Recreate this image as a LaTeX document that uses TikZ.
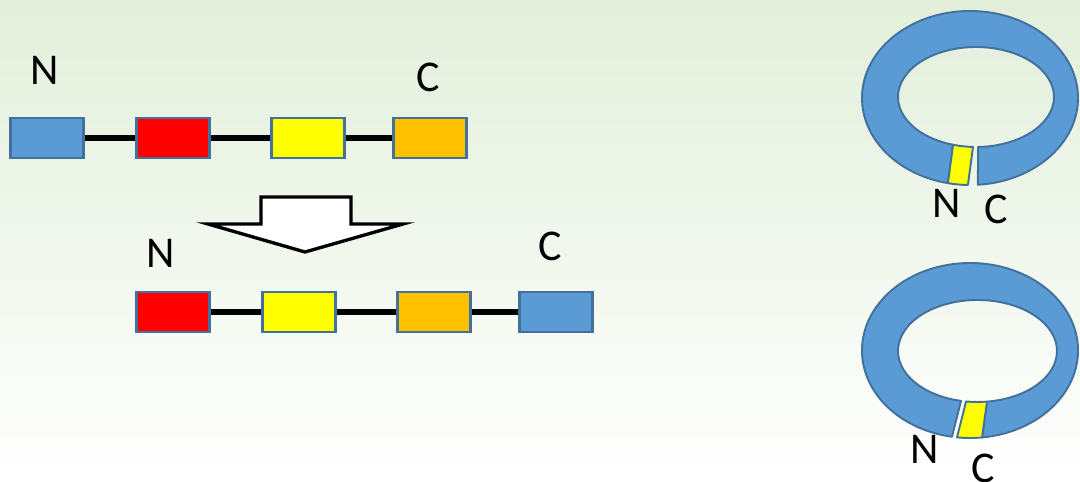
\documentclass[tikz,border=0pt]{standalone}
\usepackage{fontspec}
\setmainfont{Carlito}
\definecolor{bgtop}{RGB}{226,239,218}
\definecolor{segblue}{RGB}{91,155,213}
\definecolor{segedge}{RGB}{65,113,156}
\definecolor{segred}{RGB}{255,0,0}
\definecolor{segyellow}{RGB}{255,255,0}
\definecolor{segorange}{RGB}{255,192,0}
\tikzset{
  seg/.style={draw=segedge, line width=1.3pt, minimum width=1.46cm, minimum height=0.8cm, inner sep=0pt},
  linker/.style={line width=3pt, black},
  term/.style={font=\fontsize{25}{30}\selectfont, inner sep=0pt},
  ringpart/.style={draw=segedge, line width=1.1pt, line join=round},
  turnarrow/.style={draw=black, line width=1.9pt, fill=white, line join=miter}
}
\begin{document}
\begin{tikzpicture}[x=0.02cm, y=-0.02cm]
% page and background
\useasboundingbox (0,0) rectangle (1080,482);
\shade[top color=bgtop, bottom color=white] (0,0) rectangle (1080,482);

% linear chain before rearrangement
\node[seg, fill=segblue]   (a1) at (47,138)  {};
\node[seg, fill=segred]    (a2) at (173,138) {};
\node[seg, fill=segyellow] (a3) at (308,138) {};
\node[seg, fill=segorange] (a4) at (430,138) {};
\draw[linker] (a1.east) -- (a2.west);
\draw[linker] (a2.east) -- (a3.west);
\draw[linker] (a3.east) -- (a4.west);
\node[term] (n1) at (45,70)  {N};
\node[term] (c1) at (428,77) {C};

% block arrow
\path[turnarrow] (261,197) -- (351,197) -- (351,224) -- (403,224) -- (305,252)
  -- (208,224) -- (261,224) -- cycle;

% linear chain after rearrangement
\node[seg, fill=segred]    (b1) at (173,312) {};
\node[seg, fill=segyellow] (b2) at (299,312) {};
\node[seg, fill=segorange] (b3) at (434,312) {};
\node[seg, fill=segblue]   (b4) at (556,312) {};
\draw[linker] (b1.east) -- (b2.west);
\draw[linker] (b2.east) -- (b3.west);
\draw[linker] (b3.east) -- (b4.west);
\node[term] (n2) at (161,253) {N};
\node[term] (c2) at (550,246) {C};

% circular form, yellow segment at the N end
\path[ringpart, fill=segblue]
  ({970+108*cos(85.8)},{98+87*sin(85.8)})
  arc[start angle=85.8, end angle=-258.2, x radius=108, y radius=87]
  -- ({976+78*cos(-252.9)},{97+50*sin(-252.9)})
  arc[start angle=-252.9, end angle=88.5, x radius=78, y radius=50] -- cycle;
\path[ringpart, fill=segyellow]
  ({970+108*cos(101.8)},{98+87*sin(101.8)})
  arc[start angle=101.8, end angle=91.1, x radius=108, y radius=87]
  -- ({976+78*cos(92.2)},{97+50*sin(92.2)})
  arc[start angle=92.2, end angle=107.1, x radius=78, y radius=50] -- cycle;
\node[term] (n3) at (947,203) {N};
\node[term] (c3) at (996,209) {C};

% circular form, yellow segment at the C end
\path[ringpart, fill=segblue]
  ({970+108*cos(83.6)},{350.5+87.5*sin(83.6)})
  arc[start angle=83.6, end angle=-260.4, x radius=108, y radius=87.5]
  -- ({977.5+79.5*cos(-258.0)},{351+51*sin(-258.0)})
  arc[start angle=-258.0, end angle=83.1, x radius=79.5, y radius=51] -- cycle;
\path[ringpart, fill=segyellow]
  ({970+108*cos(96.9)},{350.5+87.5*sin(96.9)})
  arc[start angle=96.9, end angle=83.6, x radius=108, y radius=87.5]
  -- ({977.5+79.5*cos(83.1)},{351+51*sin(83.1)})
  arc[start angle=83.1, end angle=98.3, x radius=79.5, y radius=51] -- cycle;
\node[term] (n4) at (925,449) {N};
\node[term] (c4) at (983,468) {C};
\end{tikzpicture}
\end{document}
